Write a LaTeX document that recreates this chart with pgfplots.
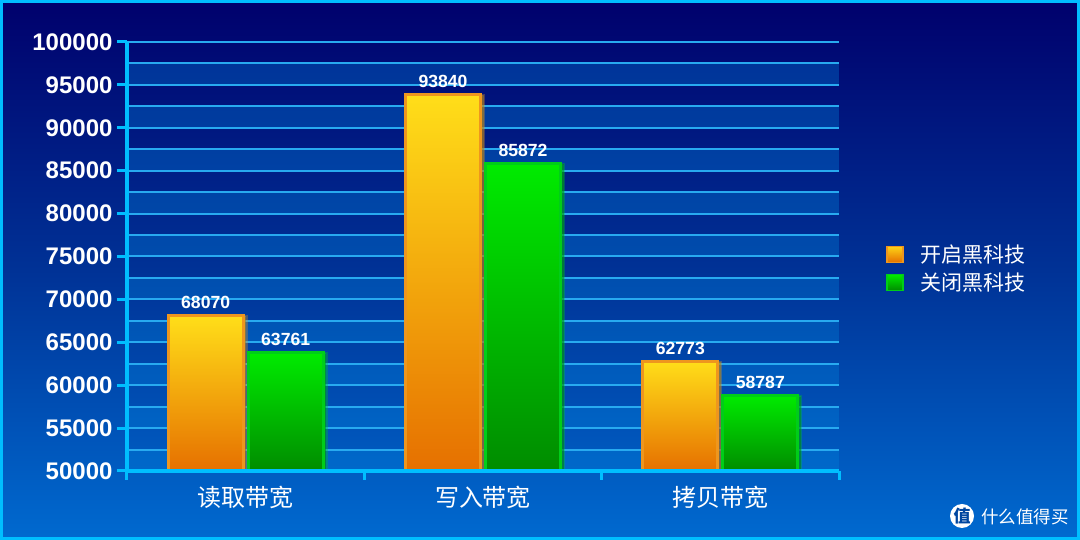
\documentclass[border=0pt]{standalone}
\usepackage{fontspec}
\setmainfont{Liberation Sans}
\newfontfamily\cjk{Noto Sans CJK SC}
\usepackage{pgfplots}
\pgfplotsset{compat=1.18}
\usetikzlibrary{shadows}

\definecolor{frameblue}{RGB}{0,190,255}
\definecolor{gridblue}{RGB}{40,170,240}
\definecolor{bgtop}{RGB}{0,0,108}
\definecolor{bgmid}{RGB}{0,50,150}
\definecolor{bgbot}{RGB}{0,106,208}
\definecolor{bandblue}{RGB}{0,130,220}
\definecolor{orangetop}{RGB}{255,222,25}
\definecolor{orangebot}{RGB}{230,112,0}
\definecolor{orangeedge}{RGB}{238,150,30}
\definecolor{greentop}{RGB}{0,235,0}
\definecolor{greenbot}{RGB}{0,140,0}
\definecolor{greenedge}{RGB}{0,205,25}
\definecolor{logoblue}{RGB}{0,70,160}

% every bar is its own plot so that it gets the whole gradient
\pgfplotsset{
    orangebar/.style={
        forget plot,
        bar shift=-40pt,
        top color=orangetop, bottom color=orangebot,
        draw=orangeedge, line width=3pt,
        drop shadow={shadow xshift=3pt, shadow yshift=-1pt, opacity=0.3, fill=black},
    },
    greenbar/.style={
        forget plot,
        bar shift=40pt,
        top color=greentop, bottom color=greenbot,
        draw=greenedge, line width=3pt,
        drop shadow={shadow xshift=3pt, shadow yshift=-1pt, opacity=0.3, fill=black},
    },
}

\begin{document}
\begin{tikzpicture}[x=1pt,y=1pt]
% background and frame
\shade[top color=bgtop, bottom color=bgbot, middle color=bgmid] (0,0) rectangle (1080,540);
\draw[frameblue, line width=3pt] (1.5,1.5) rectangle (1078.5,538.5);
% lighter bands between every second grid line
\foreach \i in {0,...,9}
    \fill[bandblue, fill opacity=0.35] (127,69+42.9*\i) rectangle (839,69+42.9*\i+21.45);

\begin{axis}[
    at={(127pt,69pt)}, anchor=south west,
    scale only axis,
    width=712pt, height=429pt,
    ybar,
    bar width=75pt,
    xmin=-0.5, xmax=2.5,
    ymin=50000, ymax=100000,
    xtick={0,1,2},
    xticklabels={读取带宽,写入带宽,拷贝带宽},
    minor xtick={-0.5,0.5,1.5,2.5},
    ytick={50000,55000,...,100000},
    minor ytick={52500,57500,...,97500},
    scaled y ticks=false,
    ymajorgrids, yminorgrids,
    major grid style={gridblue, line width=2pt},
    minor grid style={gridblue, line width=2pt},
    axis x line*=bottom,
    axis y line*=left,
    axis line style={frameblue, line width=3.5pt, -},
    tick pos=lower,
    tick align=outside,
    xtick style={draw=none},
    minor x tick style={draw=frameblue, line width=3pt},
    minor tick length=9pt,
    y tick style={draw=frameblue, line width=3pt},
    major tick length=10pt,
    minor y tick style={draw=none},
    /pgf/number format/fixed,
    /pgf/number format/assume math mode=true,
    /pgf/number format/1000 sep={},
    yticklabel style={font=\fontsize{24}{24}\selectfont\bfseries, text=white, xshift=-1pt},
    xticklabel style={font=\fontsize{24}{24}\selectfont\cjk, text=white, yshift=-2pt},
    nodes near coords,
    nodes near coords align={vertical},
    every node near coord/.append style={font=\fontsize{17.6}{18}\selectfont\bfseries, text=white, yshift=2pt},
    legend style={
        at={(1.0660,0.472)}, anchor=west, draw=none, fill=none,
        font=\fontsize{21}{21}\selectfont\cjk, text=white,
        legend cell align=left, row sep=5pt, inner sep=0pt,
    },
]
\addlegendimage{legend image code/.code={
    \shade[top color=orangetop!90!orangebot, bottom color=orangebot, draw=orangeedge, line width=1.5pt]
        (0,-8pt) rectangle (16pt,8pt);
}}
\addlegendentry{\hspace{15pt}开启黑科技}
\addlegendimage{legend image code/.code={
    \shade[top color=greentop, bottom color=greenbot, draw=greenedge, line width=1.5pt]
        (0,-8pt) rectangle (16pt,8pt);
}}
\addlegendentry{\hspace{15pt}关闭黑科技}

\addplot[orangebar] coordinates {(0,68070)};
\addplot[greenbar] coordinates {(0,63761)};
\addplot[orangebar] coordinates {(1,93840)};
\addplot[greenbar] coordinates {(1,85872)};
\addplot[orangebar] coordinates {(2,62773)};
\addplot[greenbar] coordinates {(2,58787)};
\end{axis}

% axis line again, over the foot of the bars
\draw[frameblue, line width=3.5pt] (127,69) -- (839,69);

% watermark
\fill[white] (962,24) circle (12);
\node[text=logoblue, font=\fontsize{17}{17}\selectfont\cjk\bfseries] at (962,24) {值};
\node[anchor=west, text=white, inner sep=0pt, font=\fontsize{17.5}{18}\selectfont\cjk] at (981,23) {什么值得买};
\end{tikzpicture}
\end{document}
